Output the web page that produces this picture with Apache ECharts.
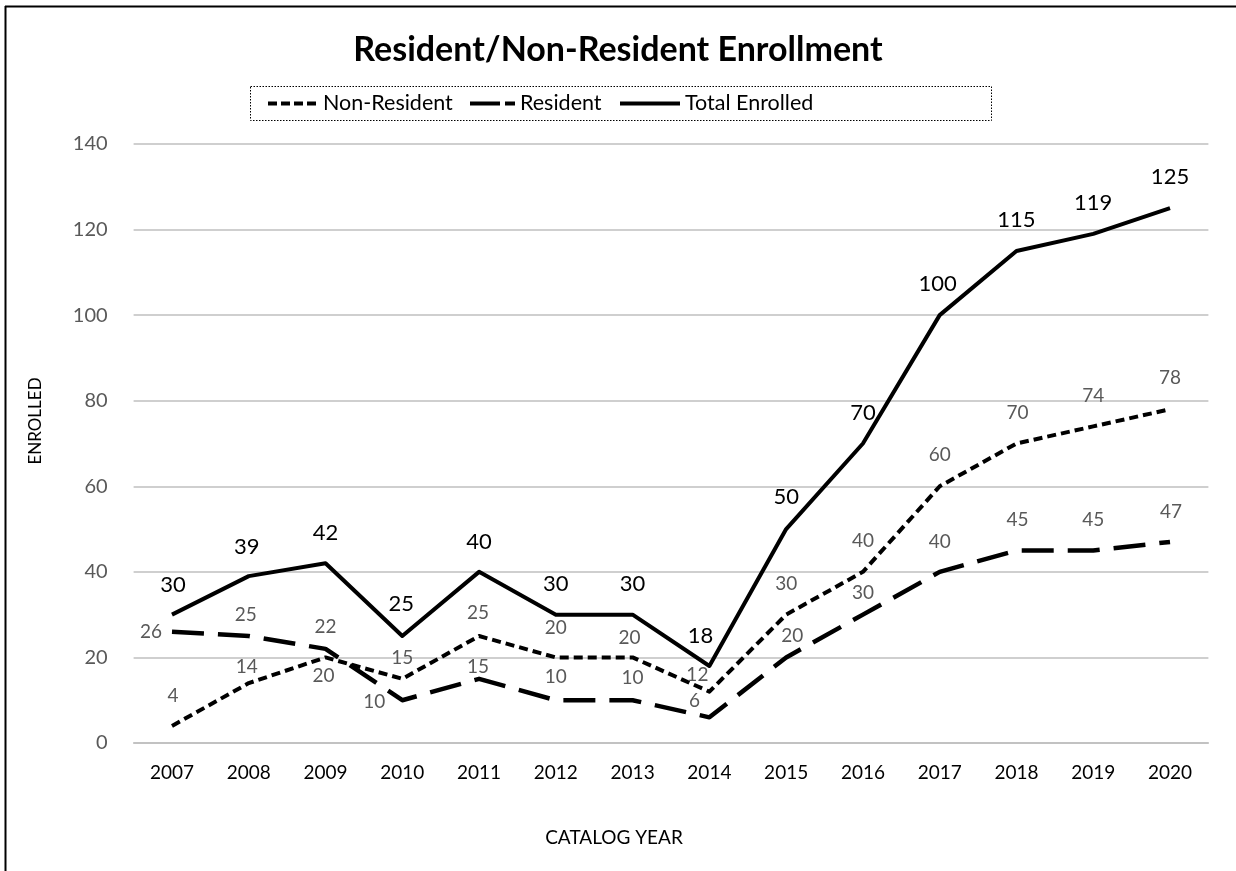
<!DOCTYPE html>
<html>
<head>
<meta charset="utf-8">
<script src="https://cdn.jsdelivr.net/npm/echarts@6/dist/echarts.min.js"></script>
<style>
  html, body { margin: 0; padding: 0; background: #fff; }
  #chart { width: 1236px; height: 871px; }
</style>
</head>
<body>
<div id="chart"></div>
<script>
// ---- data ----
const years = ['2007','2008','2009','2010','2011','2012','2013','2014','2015','2016','2017','2018','2019','2020'];
const nonResident = [4, 14, 20, 15, 25, 20, 20, 12, 30, 40, 60, 70, 74, 78];
const resident = [26, 25, 22, 10, 15, 10, 10, 6, 20, 30, 40, 45, 45, 47];
const totalEnrolled = [30, 39, 42, 25, 40, 30, 30, 18, 50, 70, 100, 115, 119, 125];
const seriesNames = ['Non-Resident', 'Resident', 'Total Enrolled'];

// ---- label placement (offsets from the point, px) ----
const nonResOffsets = [[1,-30],[-2,-16],[-2,18],[0,-21],[-1,-23],[0,-30],[-3,-20],[-12,-17],[0,-31],[0,-31],[0,-31],[1,-31],[0,-31],[0,-31]];
const resOffsets = [[-21,0],[-3,-21],[0,-22],[-28,2],[-1,-12],[0,-23],[0,-22],[-15,-16],[6,-22],[0,-22],[0,-30],[1,-31],[0,-31],[1,-30]];
const totOffsets = [[1,-30],[-2,-29],[0,-30],[-1,-32],[0,-30],[0,-31],[0,-31],[-9,-30],[0,-32],[0,-31],[-2,-31],[0,-31],[0,-31],[0,-31]];

const FONT = 'Lato, "Open Sans", sans-serif';
const NONRES_DASH = [9, 5];
const RES_DASH = [32, 14];

function build(values, offsets) {
  return values.map((v, i) => ({ value: v, label: { offset: offsets[i] } }));
}

const chart = echarts.init(document.getElementById('chart'), null, { renderer: 'canvas' });

const seriesCommon = {
  type: 'line',
  symbol: 'circle',
  symbolSize: 1,
  showSymbol: true,
  itemStyle: { color: 'rgba(0,0,0,0)' },
  emphasis: { disabled: true },
  animation: false,
  z: 3
};

const LEG_Y = 103.5;
function legendItem(x1, x2, dash, name) {
  return [
    { type: 'line', shape: { x1: x1, y1: LEG_Y, x2: x2, y2: LEG_Y },
      style: { stroke: '#000', lineWidth: 4, lineDash: dash || null } },
    { type: 'text', x: x2 + 5, y: LEG_Y,
      style: { text: name, font: '21.5px ' + FONT, fill: '#000', textVerticalAlign: 'middle', verticalAlign: 'middle' } }
  ];
}

chart.setOption({
  backgroundColor: '#fff',
  animation: false,
  textStyle: { fontFamily: FONT },
  title: {
    text: 'Resident/Non-Resident Enrollment',
    left: 'center',
    top: 28,
    textStyle: { fontFamily: FONT, fontSize: 34, fontWeight: 'bold', color: '#000' }
  },
  grid: { left: 133.6, right: 27.6, top: 144, bottom: 128, containLabel: false },
  xAxis: {
    type: 'category',
    data: years,
    boundaryGap: true,
    axisLine: { show: true, lineStyle: { color: '#bfbfbf', width: 1.5 } },
    axisTick: { show: false },
    axisLabel: { fontFamily: FONT, fontSize: 19, color: '#000', margin: 20 }
  },
  yAxis: {
    type: 'value',
    min: 0,
    max: 140,
    interval: 20,
    axisLine: { show: false },
    axisTick: { show: false },
    splitLine: { lineStyle: { color: '#bfbfbf', width: 1.5 } },
    axisLabel: { fontFamily: FONT, fontSize: 20, color: '#595959', margin: 26 }
  },
  graphic: [
    { type: 'line', shape: { x1: 5, y1: 6.5, x2: 1236, y2: 6.5 }, style: { stroke: '#000', lineWidth: 2 } },
    { type: 'line', shape: { x1: 5.5, y1: 6, x2: 5.5, y2: 871 }, style: { stroke: '#000', lineWidth: 2 } },
    { type: 'rect', shape: { x: 250.5, y: 86.5, width: 741, height: 34 }, style: { fill: 'none', stroke: '#000', lineWidth: 1, lineDash: [1.5, 1.5] } },
    ...legendItem(268, 318, [9, 4], seriesNames[0]),
    ...legendItem(470, 515, [30, 5], seriesNames[1]),
    ...legendItem(620, 680, null, seriesNames[2]),
    { type: 'text', x: 36, y: 421, rotation: Math.PI / 2,
      style: { text: 'ENROLLED', font: '17px ' + FONT, fill: '#000', align: 'center', verticalAlign: 'middle', textAlign: 'center', textVerticalAlign: 'middle' } },
    { type: 'text', x: 614, y: 838,
      style: { text: 'CATALOG YEAR', font: '19px ' + FONT, fill: '#000', align: 'center', verticalAlign: 'middle', textAlign: 'center', textVerticalAlign: 'middle' } }
  ],
  series: [
    Object.assign({}, seriesCommon, {
      name: seriesNames[0],
      data: build(nonResident, nonResOffsets),
      lineStyle: { color: '#000', width: 4, type: NONRES_DASH, cap: 'butt', join: 'round' },
      label: { show: true, position: 'inside', fontFamily: FONT, fontSize: 19, color: '#595959' }
    }),
    Object.assign({}, seriesCommon, {
      name: seriesNames[1],
      data: build(resident, resOffsets),
      lineStyle: { color: '#000', width: 4.5, type: RES_DASH, cap: 'butt', join: 'round' },
      label: { show: true, position: 'inside', fontFamily: FONT, fontSize: 19, color: '#595959' }
    }),
    Object.assign({}, seriesCommon, {
      name: seriesNames[2],
      data: build(totalEnrolled, totOffsets),
      lineStyle: { color: '#000', width: 4, type: 'solid', cap: 'butt', join: 'round' },
      label: { show: true, position: 'inside', fontFamily: FONT, fontSize: 22, color: '#000' }
    })
  ]
});
</script>
</body>
</html>
